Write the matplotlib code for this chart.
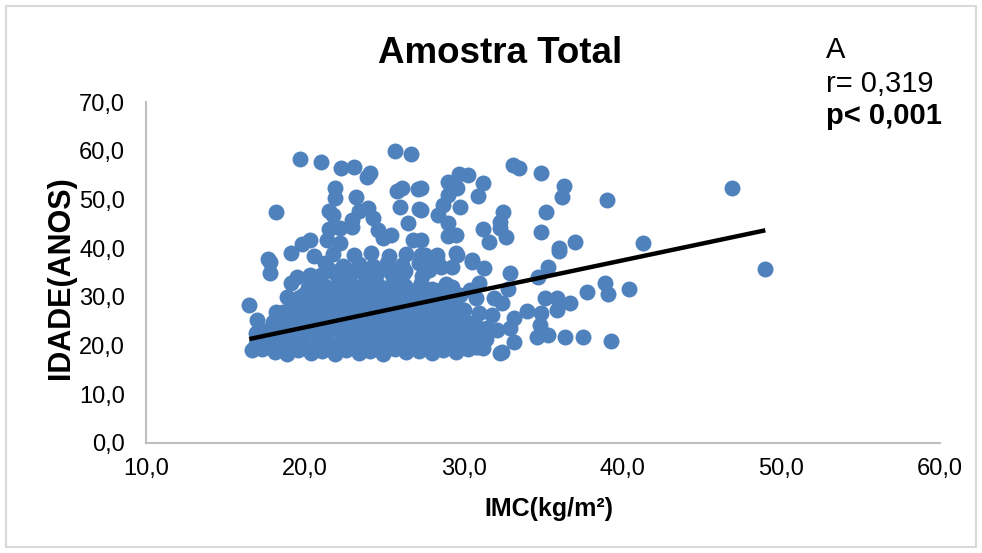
import matplotlib
matplotlib.use("Agg")
import matplotlib.pyplot as plt
from matplotlib.patches import Rectangle
import numpy as np

plt.rcParams['font.family'] = ['Liberation Sans', 'DejaVu Sans']

# --- data: IMC (kg/m2) vs idade (anos) -------------------------------------
# upper-left group
imc_a = [19.7, 21.0, 22.3, 23.1, 25.7, 26.7, 24.1, 23.9, 21.9, 21.9, 23.2, 26.1, 25.8,
         27.1, 26.0, 27.2, 18.2, 21.5, 21.8, 23.4, 24.0, 23.0, 24.3, 26.5, 21.5, 22.2,
         23.0, 24.6, 25.4, 24.9, 26.8, 19.8, 20.3, 21.4, 22.2, 27.3, 17.7, 19.1]
idade_a = [58.3, 57.7, 56.4, 56.7, 60.0, 59.3, 55.4, 54.6, 52.4, 50.3, 50.5, 52.4, 51.7,
           52.1, 48.5, 48.0, 47.4, 47.6, 46.8, 47.6, 48.2, 45.8, 46.2, 45.2, 43.9, 44.1,
           44.3, 43.7, 42.7, 42.1, 41.7, 40.9, 41.7, 41.7, 41.1, 38.6, 37.8, 39.0]

# upper-right group
imc_b = [33.1, 33.5, 34.9, 36.3, 36.2, 39.0, 29.7, 30.3, 29.0, 31.2, 30.9, 29.6, 29.0,
         27.3, 29.8, 28.7, 28.4, 27.3, 32.5, 32.3, 32.3, 32.7, 35.2, 31.2, 31.6, 34.9,
         29.0, 29.0, 29.5, 36.0, 37.0, 29.5, 30.5, 28.3, 27.3]
idade_b = [57.1, 56.5, 55.4, 52.8, 50.5, 49.9, 55.2, 55.0, 53.6, 53.4, 50.7, 52.4, 50.9,
           52.4, 48.5, 48.9, 46.8, 47.8, 47.4, 45.4, 44.1, 42.3, 47.4, 43.9, 41.3, 43.3,
           45.2, 42.5, 42.7, 40.0, 41.3, 39.0, 37.6, 38.6, 41.7]

# high IMC
imc_c = [46.9, 41.3, 49.0, 38.9, 39.1, 40.4, 39.3]
idade_c = [52.4, 41.1, 35.7, 32.8, 30.6, 31.6, 21.0]

# IMC 27-38
imc_d = [36.0, 35.3, 34.7, 32.9, 31.3, 30.5, 29.6, 37.8, 35.1, 35.9, 36.7, 32.8, 34.0,
         34.9, 35.9, 34.8, 34.6, 35.3, 36.4, 37.5, 33.2, 33.2, 32.4, 31.2, 32.9, 32.1,
         31.5, 30.4, 30.0, 31.0, 31.8, 32.4, 31.9, 30.8, 30.4, 31.0, 27.9, 28.5, 29.3,
         27.4, 28.3, 29.3, 27.3, 27.7, 28.5, 29.3, 30.1, 30.9, 32.3]
idade_d = [39.4, 36.1, 34.1, 34.9, 35.9, 37.2, 38.6, 31.0, 29.8, 29.8, 28.7, 31.6, 27.1,
           26.7, 27.3, 24.2, 21.8, 22.2, 21.8, 21.8, 25.7, 20.7, 18.7, 19.5, 23.6, 23.2,
           23.6, 24.6, 27.3, 26.7, 26.3, 28.7, 29.8, 29.8, 31.4, 32.8, 30.0, 31.4, 32.0,
           37.6, 37.6, 36.1, 28.3, 24.2, 23.2, 22.6, 21.6, 19.7, 18.5]

# low IMC edge
imc_e = [16.5, 17.0, 16.9, 16.7, 17.8, 17.8, 19.5, 19.1, 18.9, 18.2, 17.9, 20.3, 20.5]
idade_e = [28.3, 25.3, 22.6, 19.1, 37.2, 34.9, 34.1, 32.8, 30.0, 26.9, 23.6, 34.5, 32.4]

# dense core (IMC 17-31, idade 18-39)
imc_f = [17.3, 18.1, 18.9, 19.6, 20.4, 21.1, 21.9, 22.6, 23.4, 24.1, 24.9, 25.7, 26.4,
         27.2, 28.0, 28.7, 29.5, 30.3,
         17.7, 18.5, 19.3, 20.0, 20.8, 21.5, 22.3, 23.0, 23.8, 24.5, 25.3, 26.1, 26.8,
         27.6, 28.4, 29.2, 30.0, 30.8,
         16.9, 17.7, 18.5, 19.2, 20.0, 20.8, 21.5, 22.3, 23.0, 23.8, 24.5, 25.3, 26.1,
         26.8, 27.6, 28.3, 29.1, 29.9, 30.7, 31.4,
         17.4, 18.2, 19.0, 19.8, 20.6, 21.3, 22.1, 22.9, 23.6, 24.4, 25.2, 25.9, 26.7,
         27.4, 28.2, 29.0, 29.8, 30.6,
         17.8, 18.6, 19.4, 20.2, 21.0, 21.7, 22.5, 23.3, 24.0, 24.8, 25.6, 26.3, 27.1,
         27.8, 28.6, 29.4, 30.2, 31.0,
         18.0, 18.8, 19.6, 20.4, 21.2, 21.9, 22.7, 23.5, 24.3, 25.0, 25.8, 26.6, 27.3,
         28.1, 28.9, 29.7,
         18.4, 19.2, 20.0, 20.8, 21.6, 22.4, 23.2, 24.0, 24.8, 25.6, 26.4, 27.2, 28.0,
         28.8, 29.6,
         18.6, 19.5, 20.3, 21.1, 21.9, 22.8, 23.6, 24.4, 25.2, 26.0, 26.9, 27.7, 28.6, 29.5,
         19.1, 19.9, 20.7, 21.5, 22.3, 23.2, 24.0, 24.8, 25.6, 26.4, 27.3, 28.1, 29.0, 29.9,
         19.3, 20.1, 21.0, 21.8, 22.6, 23.5, 24.3, 25.1, 25.9, 26.8, 27.6, 28.5, 29.3,
         19.6, 20.5, 21.3, 22.1, 23.0, 23.8, 24.6, 25.4, 26.2, 27.1, 28.0, 29.0,
         19.9, 20.7, 21.6, 22.4, 23.3, 24.1, 24.9, 25.8, 26.6, 27.5, 28.6, 29.8,
         20.2, 21.1, 21.9, 22.8, 23.6, 24.5, 25.3, 26.2, 27.0, 28.0, 29.2,
         20.4, 21.3, 22.1, 23.0, 23.8, 24.6, 25.5, 26.3, 27.3, 28.9,
         21.0, 21.9, 22.8, 23.7, 24.5, 25.4, 26.2, 27.4,
         21.6, 22.6, 23.5, 24.4, 25.3, 26.3, 27.8,
         21.3, 22.4, 23.4, 24.3, 25.2, 26.1, 27.2, 28.6,
         20.6, 21.8, 23.1, 24.2, 25.3, 26.4, 27.6]
idade_f = [19.2, 18.6, 18.3, 19.0, 18.4, 18.9, 18.2, 19.1, 18.5, 18.8, 18.3, 19.2, 18.6,
           18.9, 18.4, 19.1, 18.7, 19.3,
           19.8, 19.5, 19.9, 19.6, 19.7, 20.0, 19.4, 19.8, 19.6, 19.9, 19.5, 19.7, 20.0,
           19.6, 19.8, 19.4, 19.9, 19.7,
           20.4, 21.0, 20.6, 20.9, 20.3, 21.1, 20.5, 20.8, 21.2, 20.4, 20.9, 20.6, 21.0,
           20.3, 20.8, 21.1, 20.5, 20.9, 20.6, 21.3,
           22.8, 22.3, 23.0, 22.5, 22.9, 22.4, 23.1, 22.6, 22.2, 22.9, 22.5, 23.0, 22.4,
           22.8, 22.6, 23.1, 22.3, 22.7,
           23.5, 23.8, 23.4, 23.9, 23.6, 23.7, 23.3, 23.8, 23.5, 23.9, 23.4, 23.7, 23.6,
           23.9, 23.5, 23.8, 23.4, 23.6,
           24.9, 24.3, 25.0, 24.5, 24.8, 24.2, 25.1, 24.6, 24.4, 25.0, 24.7, 24.3, 24.9,
           25.2, 24.5, 24.8,
           25.7, 25.9, 25.6, 25.8, 25.5, 25.9, 25.7, 25.6, 25.8, 25.5, 25.9, 25.7, 25.6,
           25.8, 25.6,
           26.8, 26.3, 27.0, 26.5, 26.9, 26.4, 27.1, 26.6, 26.2, 26.9, 26.5, 27.0, 26.4, 26.7,
           27.8, 27.4, 27.7, 27.5, 27.9, 27.3, 27.6, 27.8, 27.4, 27.7, 27.5, 27.9, 27.6, 27.4,
           28.9, 28.4, 28.8, 28.3, 29.0, 28.5, 28.7, 28.2, 28.9, 28.6, 28.4, 29.1, 28.5,
           29.7, 29.5, 29.8, 29.6, 29.9, 29.5, 29.7, 29.8, 29.6, 29.5, 29.8, 29.6,
           30.4, 30.9, 30.3, 30.8, 30.5, 31.0, 30.4, 30.7, 30.2, 30.9, 30.6, 30.3,
           31.8, 31.4, 31.7, 31.5, 31.9, 31.3, 31.6, 31.8, 31.5, 31.7, 31.4,
           32.9, 32.3, 32.8, 32.4, 33.0, 32.5, 32.7, 32.2, 32.9, 32.6,
           34.4, 34.9, 34.3, 34.8, 34.5, 35.0, 34.6, 34.2,
           35.5, 35.8, 35.4, 35.7, 35.9, 35.3, 35.6,
           36.9, 36.4, 36.8, 36.3, 37.0, 36.5, 36.9, 36.2,
           38.3, 38.9, 38.5, 39.0, 38.4, 38.8, 38.5]

# linear trend line (idade = a + b * IMC)
trend_intercept = 10.0
trend_slope = 0.687

x_ticks = [10, 20, 30, 40, 50, 60]
y_ticks = [0, 10, 20, 30, 40, 50, 60, 70]

imc = np.array(imc_a + imc_b + imc_c + imc_d + imc_e + imc_f)
idade = np.array(idade_a + idade_b + idade_c + idade_d + idade_e + idade_f)

# --- figure -----------------------------------------------------------------
W, H = 982, 553
fig = plt.figure(figsize=(W / 100, H / 100), dpi=100)
fig.patch.set_facecolor('white')

ax = fig.add_axes([146 / W, 1 - 443 / H, (940 - 146) / W, (443 - 102) / H])
ax.scatter(imc, idade, s=132, color='#4F81BD', linewidths=0, zorder=2)

xs = np.array([imc.min(), imc.max()])
ax.plot(xs, trend_intercept + trend_slope * xs, color='black', lw=3.2,
        solid_capstyle='butt', zorder=3)

ax.set_xlim(10, 60)
ax.set_ylim(0, 70)
ax.set_xticks(x_ticks)
ax.set_yticks(y_ticks)
ax.set_xticklabels([f"{v:.1f}".replace('.', ',') for v in x_ticks])
ax.set_yticklabels([f"{v:.1f}".replace('.', ',') for v in y_ticks])
ax.tick_params(axis='both', length=0, labelsize=17, colors='black')
ax.tick_params(axis='y', pad=15)
ax.tick_params(axis='x', pad=11)

for side in ('top', 'right'):
    ax.spines[side].set_visible(False)
for side in ('left', 'bottom'):
    ax.spines[side].set_color('#BFBFBF')
    ax.spines[side].set_linewidth(1.5)

ax.set_xlabel('IMC(kg/m²)', fontsize=18, fontweight='bold')
ax.set_ylabel('IDADE(ANOS)', fontsize=22, fontweight='bold')
ax.xaxis.set_label_coords(0.508, -0.158)
ax.yaxis.set_label_coords(-0.088, 0.484)

fig.text(500 / W, 1 - 63 / H, 'Amostra Total', fontsize=26.5, fontweight='bold',
         ha='center', va='baseline')
fig.text(826 / W, 1 - 58 / H, 'A', fontsize=21, ha='left', va='baseline')
fig.text(826 / W, 1 - 92 / H, 'r= 0,319', fontsize=21, ha='left', va='baseline')
fig.text(826 / W, 1 - 124 / H, 'p< 0,001', fontsize=21, fontweight='bold',
         ha='left', va='baseline')

fig.add_artist(Rectangle((6 / W, 6 / H), (W - 12) / W, (H - 12) / H,
                         transform=fig.transFigure, fill=False,
                         edgecolor='#D9D9D9', linewidth=1.5))

fig.savefig('out.png', dpi=100)
